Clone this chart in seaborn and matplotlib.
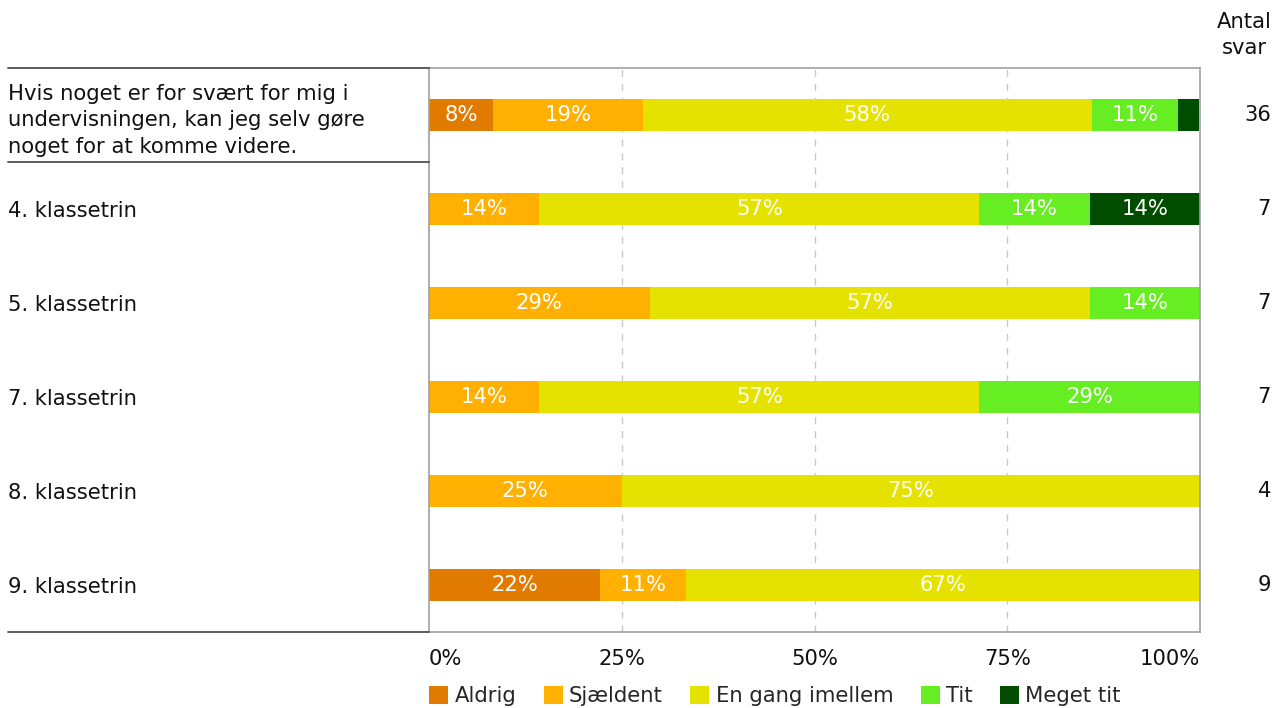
import pandas as pd
import numpy as np
import matplotlib.pyplot as plt
from matplotlib.lines import Line2D
from matplotlib.patches import Patch
import seaborn as sns

sns.set_theme(style="white")
plt.rcParams['font.family'] = ['DejaVu Sans']

# Data
rows = ["Hvis noget er for svært for mig i\nundervisningen, kan jeg selv gøre\nnoget for at komme videre.",
        "4. klassetrin", "5. klassetrin", "7. klassetrin", "8. klassetrin", "9. klassetrin"]
categories = ["Aldrig", "Sjældent", "En gang imellem", "Tit", "Meget tit"]
aldrig = [8.3, 0, 0, 0, 0, 22.2]
sjaeldent = [19.4, 14.3, 28.6, 14.3, 25.0, 11.1]
en_gang = [58.3, 57.1, 57.1, 57.1, 75.0, 66.7]
tit = [11.1, 14.3, 14.3, 28.6, 0, 0]
meget_tit = [2.8, 14.3, 0, 0, 0, 0]
antal_svar = [36, 7, 7, 7, 4, 9]
colors = ["#E07B00", "#FFB000", "#E6E200", "#66EE22", "#004D00"]

FS = 15.2

df = pd.DataFrame({"row": rows, "Aldrig": aldrig, "Sjældent": sjaeldent,
                   "En gang imellem": en_gang, "Tit": tit, "Meget tit": meget_tit})
cum = df[categories].cumsum(axis=1)

fig = plt.figure(figsize=(12.77, 7.08), dpi=100)
W, H = 1277, 708
ax = fig.add_axes([429 / W, 1 - 632 / H, (1200 - 429) / W, (632 - 68) / H])

# stacked bars: draw cumulative ends from longest to shortest
for cat, col in reversed(list(zip(categories, colors))):
    sns.barplot(data=cum.assign(row=rows), x=cat, y=rows, color=col, width=0.35,
                orient="h", ax=ax, saturation=1, edgecolor="none", linewidth=0)

# percent labels
for i, r in df.iterrows():
    for cat in categories:
        v = r[cat]
        if v >= 5:
            center = cum.loc[i, cat] - v / 2
            ax.text(center, i, f"{v:.0f}%", ha="center", va="center",
                    color="white", fontsize=FS)

ax.set_xlim(0, 100)
ax.set_ylim(5.5, -0.5)
ax.set_xlabel("")
ax.set_ylabel("")

# grid
for g in [25, 50, 75]:
    ax.axvline(g, color="#C8C8C8", linestyle=(0, (5, 5)), linewidth=1, zorder=0)

for side in ["top", "bottom", "left", "right"]:
    ax.spines[side].set_visible(True)
    ax.spines[side].set_color("#A0A0A0")
    ax.spines[side].set_linewidth(1.2)

# x ticks
ax.set_xticks([0, 25, 50, 75, 100])
ax.set_xticklabels(["0%", "25%", "50%", "75%", "100%"], fontsize=FS, color="#111111")
ax.tick_params(axis="x", length=0, pad=12)
xt = ax.get_xticklabels()
xt[0].set_ha("left")
xt[-1].set_ha("right")

# y labels, left aligned at the figure edge
ax.set_yticks(range(len(rows)))
ax.set_yticklabels(rows, fontsize=FS, color="#111111", linespacing=1.42)
ax.tick_params(axis="y", length=0, pad=(429 - 8) * 72 / 100)
for t in ax.get_yticklabels():
    t.set_ha("left")

# separator lines in label column
for yy in [68, 162, 632]:
    fig.add_artist(Line2D([8 / W, 429 / W], [1 - yy / H, 1 - yy / H],
                          color="#505050", linewidth=1.3))

# Antal svar
trans = ax.get_yaxis_transform()
xr = (1271 - 429) / (1200 - 429)
for i, n in enumerate(antal_svar):
    ax.text(xr, i, str(n), ha="right", va="center", fontsize=FS,
            color="#111111", transform=trans)
fig.text(1244 / W, 1 - 35 / H, "Antal\nsvar", ha="center", va="center",
         fontsize=FS, color="#111111", linespacing=1.42)

# legend
handles = [Patch(facecolor=c, edgecolor="none", label=l) for l, c in zip(categories, colors)]
fig.legend(handles=handles, loc="center left", bbox_to_anchor=(429 / W, 1 - 696 / H),
           ncol=5, frameon=False, fontsize=FS, handlelength=0.9, handleheight=0.9,
           handletextpad=0.3, columnspacing=1.3, borderaxespad=0, borderpad=0)

fig.savefig("out.png", dpi=100)
